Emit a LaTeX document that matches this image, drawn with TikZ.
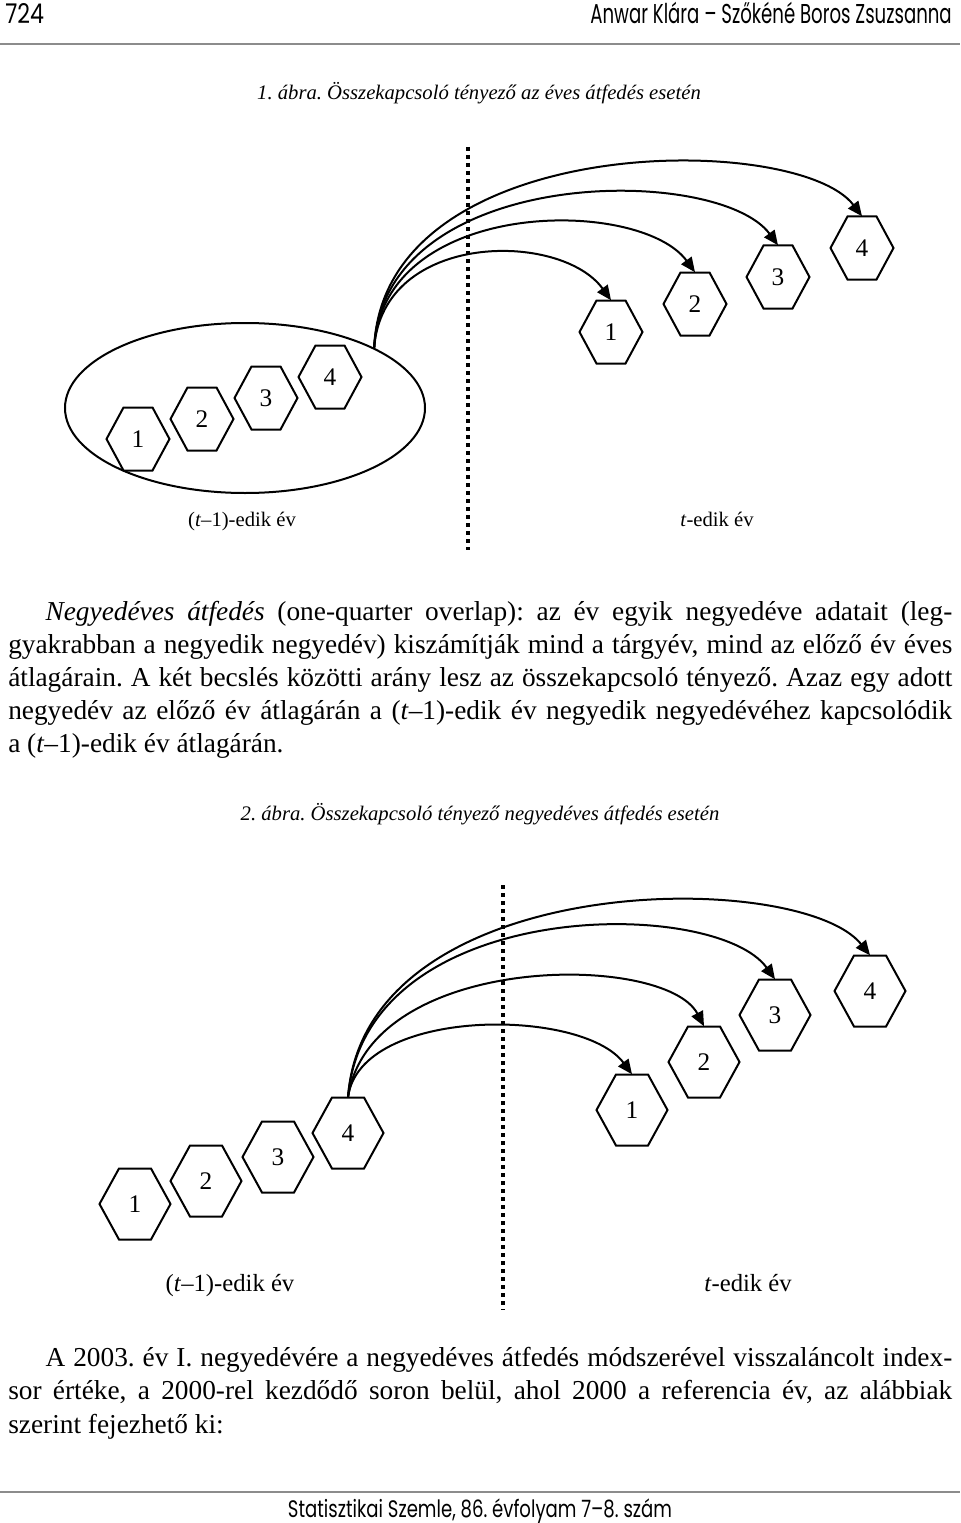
\documentclass[tikz,border=0pt]{standalone}
\usepackage{fontspec}
\setmainfont{Liberation Serif}
\newfontfamily\hdfont{Poppins}
\usepackage{graphicx}
\usetikzlibrary{arrows.meta,shapes.geometric}
\frenchspacing

\tikzset{
  hexA/.style={draw=none, minimum width=47.25pt, minimum height=47.25pt, inner sep=0pt, font=\fontsize{19}{19}\selectfont},
  hexB/.style={draw=none, minimum width=53.25pt, minimum height=53.25pt, inner sep=0pt, font=\fontsize{19}{19}\selectfont},
  hexline/.style={draw=black, line width=1.5pt, line join=miter},
  arr/.style={draw=black, line width=1.5pt, -{Triangle[length=11pt,width=9.5pt]}},
  dotline/.style={draw=black, line width=3pt, dash pattern=on 3pt off 3pt},
  rulel/.style={draw=black!45, line width=1.5pt},
  txt/.style={inner sep=0pt, anchor=base west},
  body/.style={txt, font=\fontsize{20.5}{24.75}\selectfont},
  capt/.style={inner sep=0pt, anchor=base, font=\fontsize{15.5}{18}\selectfont\itshape},
  labA/.style={inner sep=0pt, anchor=base, font=\fontsize{15.5}{18}\selectfont},
  labB/.style={inner sep=0pt, anchor=base, font=\fontsize{18.5}{22}\selectfont},
}
\newcommand\hexdraw[4]{\draw[hexline] (#1.center) +(-#2,0) -- +(-#4,-#3) -- +(#4,-#3) -- +(#2,0) -- +(#4,#3) -- +(-#4,#3) -- cycle;}
\newcommand\jline[1]{\makebox[708pt][s]{#1}}

\begin{document}
\begin{tikzpicture}[x=0.75pt,y=-0.75pt]
\fill[white] (0,0) rectangle (960,1523);
\path[use as bounding box] (0,0) rectangle (960,1523);

% header
\node[txt] (pg) at (5,24) {\resizebox{29pt}{15pt}{\hdfont 724}};
\node[inner sep=0pt, anchor=base east] (au) at (952,24) {\resizebox{271pt}{16pt}{\hdfont Anwar Klára – Szőkéné Boros Zsuzsanna}};
\draw[rulel] (0,44) -- (960,44);

% caption 1
\node[capt] (cap1) at (479,100) {1. ábra. Összekapcsoló tényező az éves átfedés esetén};

% figure 1
\node[ellipse, draw=black, line width=1.5pt, minimum width=270pt, minimum height=127.5pt, inner sep=0pt] (ell) at (245,408) {};
\draw[dotline] (468,147) coordinate (d1t) -- (468,550) coordinate (d1b);

\node[hexA] (A1) at (138,439) {1};
\node[hexA] (A2) at (202,419) {2};
\node[hexA] (A3) at (266,398) {3};
\node[hexA] (A4) at (330,377) {4};
\node[hexA] (B1) at (611,332) {1};
\node[hexA] (B2) at (695,304) {2};
\node[hexA] (B3) at (778,277) {3};
\node[hexA] (B4) at (862,248) {4};
\foreach \n in {A1,A2,A3,A4,B1,B2,B3,B4}{\hexdraw{\n}{31.5}{31.5}{14.5}}

\draw[arr] (ell.25) .. controls (383,231) and (561,231) .. (B1.north);
\draw[arr] (ell.25) .. controls (383,197) and (640,197) .. (B2.north);
\draw[arr] (ell.25) .. controls (383,164) and (718,164) .. (B3.north);
\draw[arr] (ell.25) .. controls (383,131) and (797,131) .. (B4.north);

\node[labA] (la1) at (242,526) {(\textit{t}–1)-edik év};
\node[labA] (lb1) at (717,526) {\textit{t}-edik év};

% paragraph 1
\node[body] (p1) at (8,620) {\jline{\hspace*{28pt}\textit{Negyedéves átfedés} (one-quarter overlap): az év egyik negyedéve adatait (leg-}};
\node[body] (p2) at (8,653) {\jline{gyakrabban a negyedik negyedév) kiszámítják mind a tárgyév, mind az előző év éves}};
\node[body] (p3) at (8,686) {\jline{átlagárain. A két becslés közötti arány lesz az összekapcsoló tényező. Azaz egy adott}};
\node[body] (p4) at (8,719) {\jline{negyedév az előző év átlagárán a (\textit{t}–1)-edik év negyedik negyedévéhez kapcsolódik}};
\node[body] (p5) at (8,752) {a (\textit{t}–1)-edik év átlagárán.};

% caption 2
\node[capt] (cap2) at (480,820) {2. ábra. Összekapcsoló tényező negyedéves átfedés esetén};

% figure 2
\draw[dotline] (503,885) coordinate (d2t) -- (503,1310) coordinate (d2b);
\node[hexB] (C1) at (135,1204) {1};
\node[hexB] (C2) at (206,1181) {2};
\node[hexB] (C3) at (278,1157) {3};
\node[hexB] (C4) at (348,1133) {4};
\node[hexB] (D1) at (632,1110) {1};
\node[hexB] (D2) at (704,1062) {2};
\node[hexB] (D3) at (775,1015) {3};
\node[hexB] (D4) at (870,991) {4};
\foreach \n in {C1,C2,C3,C4,D1,D2,D3,D4}{\hexdraw{\n}{35.5}{35.5}{16}}

\draw[arr] (C4.north) .. controls (360,1007) and (582,1007) .. (D1.north);
\draw[arr] (C4.north) .. controls (370,952) and (665,952) .. (D2.north);
\draw[arr] (C4.north) .. controls (365,896) and (715,896) .. (D3.north);
\draw[arr] (C4.north) .. controls (365,868) and (800,868) .. (D4.north);

\node[labB] (la2) at (230,1291) {(\textit{t}–1)-edik év};
\node[labB] (lb2) at (748,1291) {\textit{t}-edik év};

% paragraph 2
\node[body] (q1) at (8,1366) {\jline{\hspace*{28pt}A 2003. év I. negyedévére a negyedéves átfedés módszerével visszaláncolt index-}};
\node[body] (q2) at (8,1399.5) {\jline{sor értéke, a 2000-rel kezdődő soron belül, ahol 2000 a referencia év, az alábbiak}};
\node[body] (q3) at (8,1433) {szerint fejezhető ki:};

% footer
\draw[rulel] (0,1492) -- (960,1492);
\node[inner sep=0pt, anchor=base] (ft) at (480,1517) {\resizebox{288pt}{14pt}{\hdfont Statisztikai Szemle, 86. évfolyam 7–8. szám}};
\end{tikzpicture}
\end{document}
